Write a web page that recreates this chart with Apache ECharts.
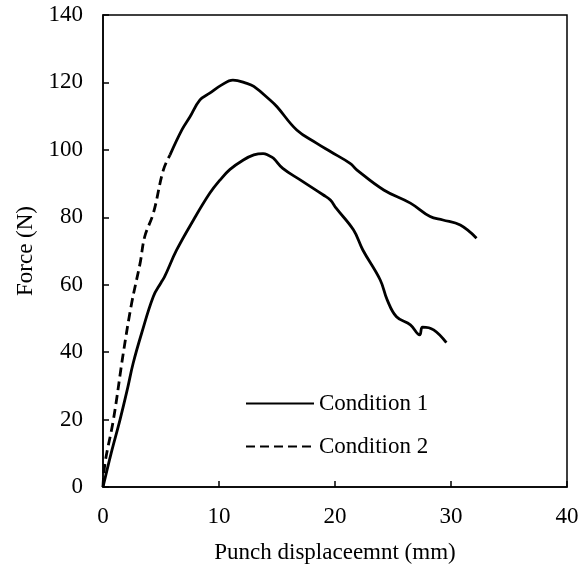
<!DOCTYPE html>
<html>
<head>
<meta charset="utf-8">
<script src="https://cdn.jsdelivr.net/npm/echarts@6/dist/echarts.min.js"></script>
<style>html,body{margin:0;padding:0;background:#fff}#c{width:585px;height:569px}</style>
</head>
<body>
<div id="c"></div>
<script>
var xTicks = [0, 10, 20, 30, 40];
var yTicks = [0, 20, 40, 60, 80, 100, 120, 140];
var seriesNames = ['Condition 1', 'Condition 2'];
var cond1 = [[0,0],[0.7,10],[1.47,20],[2.1,29],[2.6,36.7],[3.33,45.6],[4.34,56.5],[5.0,60.6],[5.3,62.3],[6.35,70.3],[7.8,79.2],[9.2,87.1],[10.1,91.1],[10.95,94.2],[12.1,97],[13,98.5],[13.8,98.9],[14.3,98.3],[14.7,97.5],[15.5,94.5],[17,91.1],[19,86.6],[19.6,85.1],[20.1,82.7],[21.6,76.2],[22.4,70.3],[23.9,61.4],[24.5,55.5],[25.3,50.5],[26.5,48.1],[27.3,45.1],[27.55,47.4],[28.5,46.6],[29.6,42.8]];
var cond2 = [[0,0],[0.17,7],[0.9,20],[1.75,39.7],[2.47,54.5],[3.2,66.4],[3.6,74.3],[4.34,81.2],[5.2,94],[5.78,98.5],[6.8,105.9],[7.5,109.8],[8.36,114.8],[9.2,116.8],[10.2,119.2],[11.2,120.7],[12.4,119.7],[13,118.8],[14.4,114.8],[15,112.8],[16.7,105.9],[18.4,102],[19.6,99.5],[21.3,96],[21.9,94],[24.2,88.1],[26.5,84.2],[28.2,80.2],[29.3,79.2],[30.8,77.7],[32.2,73.8]];
var cond2DashEnd = 5.78;

var FONT = '"Liberation Serif", "Times New Roman", serif';
var FS = 23;
var chart = echarts.init(document.getElementById('c'), null, {renderer: 'canvas'});
var lineBase = {type: 'line', symbol: 'none', smooth: 0.4, z: 3};
chart.setOption({
  animation: false,
  backgroundColor: '#fff',
  textStyle: {fontFamily: FONT, color: '#000'},
  grid: {left: 103, right: 18, top: 15, bottom: 82, show: true, borderColor: '#000', borderWidth: 1.5, backgroundColor: 'transparent'},
  legend: {
    data: seriesNames,
    orient: 'vertical',
    left: 240,
    top: 387,
    itemWidth: 68,
    itemHeight: 14,
    itemGap: 20,
    itemStyle: {opacity: 0},
    textStyle: {fontFamily: FONT, fontSize: FS, color: '#000'}
  },
  xAxis: {
    type: 'value', min: xTicks[0], max: xTicks[xTicks.length - 1], interval: 10,
    name: 'Punch displaceemnt (mm)', nameLocation: 'middle', nameGap: 54,
    nameTextStyle: {fontFamily: FONT, fontSize: FS, color: '#000'},
    axisLine: {show: true, lineStyle: {color: '#000', width: 1.5}},
    axisTick: {show: true, inside: true, length: 6, lineStyle: {color: '#000', width: 1.5}},
    axisLabel: {fontFamily: FONT, fontSize: FS, color: '#000', margin: 18},
    splitLine: {show: false}
  },
  yAxis: {
    type: 'value', min: yTicks[0], max: yTicks[yTicks.length - 1], interval: 20,
    name: 'Force (N)', nameLocation: 'middle', nameGap: 66,
    nameTextStyle: {fontFamily: FONT, fontSize: FS, color: '#000'},
    axisLine: {show: true, lineStyle: {color: '#000', width: 1.5}},
    axisTick: {show: true, inside: true, length: 6, lineStyle: {color: '#000', width: 1.5}},
    axisLabel: {fontFamily: FONT, fontSize: FS, color: '#000', margin: 20},
    splitLine: {show: false}
  },
  series: [
    Object.assign({}, lineBase, {name: seriesNames[0], data: cond1, lineStyle: {color: '#000', width: 2.8, type: 'solid'}, itemStyle: {color: '#000'}}),
    Object.assign({}, lineBase, {name: seriesNames[1], data: cond2.filter(function(p){return p[0] <= cond2DashEnd;}), lineStyle: {color: '#000', width: 2.8, type: [9, 5]}, itemStyle: {color: '#000'}}),
    Object.assign({}, lineBase, {name: 'cond2-tail', data: cond2.filter(function(p){return p[0] >= cond2DashEnd;}), lineStyle: {color: '#000', width: 2.8, type: 'solid'}, itemStyle: {color: '#000'}})
  ]
});
</script>
</body>
</html>
